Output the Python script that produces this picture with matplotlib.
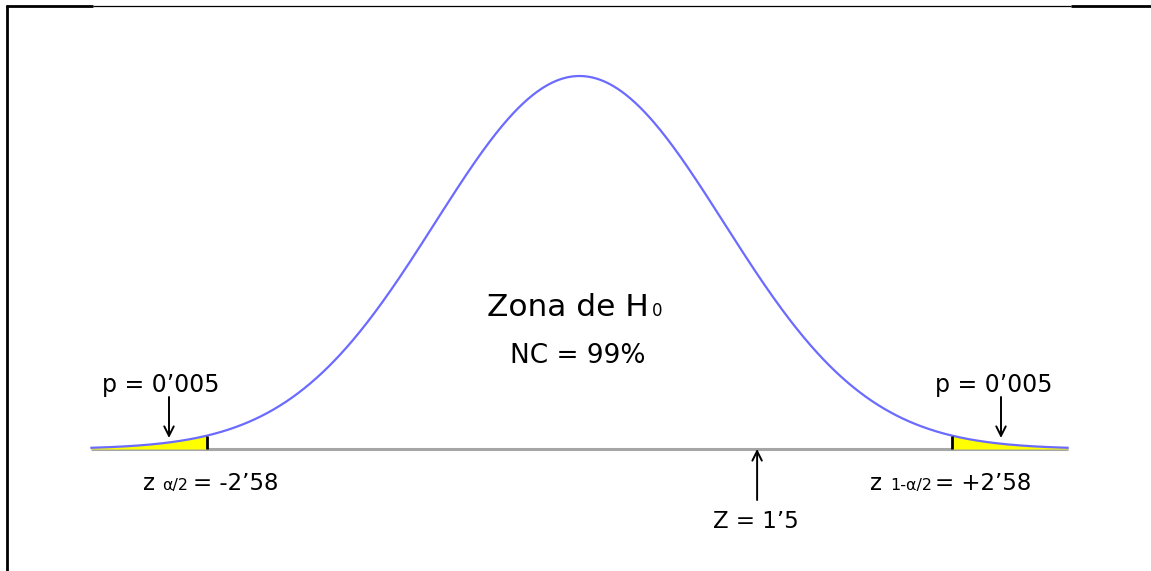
import numpy as np
import matplotlib
matplotlib.use('Agg')
from matplotlib import pyplot as plt
from matplotlib.lines import Line2D

# values
z_crit = 2.58            # critical value for NC = 99 %
z_lim = 3.38             # extent of the drawn curve
z_arrow = 1.23           # where the "Z = 1'5" arrow points on the axis
p_tail = "0\u2019005"
nc_label = "NC = 99%"
z_obs_label = "Z = 1\u20195"
crit_left_label = "-2\u201958"
crit_right_label = "+2\u201958"

W, H = 1151, 571
fig = plt.figure(figsize=(W / 100., H / 100.), dpi=100)

# axes spanning the whole figure; pixel scale chosen from the picture
px_per_z = 144.4
x0_px = 579.5
pdf0 = 1. / np.sqrt(2. * np.pi)
y_per_px = pdf0 / 373.
base_px = 449
ax = fig.add_axes([0, 0, 1, 1])
ax.set_xlim(-x0_px / px_per_z, (W - x0_px) / px_per_z)
ax.set_ylim(-(H - base_px) * y_per_px, base_px * y_per_px)
ax.axis('off')


def pdf(z):
    return np.exp(-0.5 * z**2) / np.sqrt(2. * np.pi)


def fpx(x, y):
    # pixel (from top-left) -> figure fraction
    return x / W, 1. - y / H


z = np.linspace(-z_lim, z_lim, 800)
ax.plot([-z_lim, z_lim], [0, 0], color='#a6a6a6', lw=2.2, solid_capstyle='butt', zorder=1)
for side in (-1, 1):
    zz = np.linspace(min(side * z_crit, side * z_lim), max(side * z_crit, side * z_lim), 200)
    ax.fill_between(zz, 0, pdf(zz), color='#ffff00', linewidth=0, zorder=2)
    ax.plot([side * z_crit] * 2, [0, pdf(z_crit)], color='k', lw=2, solid_capstyle='butt', zorder=4)
ax.plot(z, pdf(z), color='#6b6bff', lw=1.6, zorder=3)

# arrows
arrow = dict(arrowstyle='->', color='k', lw=1.4, mutation_scale=17, shrinkA=0, shrinkB=0)
for xa in (169, 1001):
    ax.annotate('', xy=fpx(xa, 438), xytext=fpx(xa, 397), xycoords='figure fraction',
                textcoords='figure fraction', arrowprops=arrow)
ax.annotate('', xy=(z_arrow, 0), xytext=(z_arrow, -51 * y_per_px), arrowprops=arrow)

# texts
fam = 'DejaVu Sans'
def txt(x, y, s, size):
    fig.text(*fpx(x, y), s, fontsize=size, family=fam, ha='left', va='baseline')

txt(487, 316, "Zona de H", 22.5)
txt(652, 316, "0", 12)
txt(510, 363, nc_label, 19)
txt(102, 392, "p = " + p_tail, 17)
txt(935, 392, "p = " + p_tail, 17)
txt(143, 490, "z", 16.5)
txt(162, 490, "\u03b1/2", 11.5)
txt(193, 490, "= " + crit_left_label, 16.5)
txt(870, 490, "z", 16.5)
txt(890, 490, "1-\u03b1/2", 11.5)
txt(935, 490, "= " + crit_right_label, 16.5)
txt(713, 528, z_obs_label, 16.5)

# frame pieces
def fline(x1, y1, x2, y2, lw):
    (a, b), (c, d) = fpx(x1, y1), fpx(x2, y2)
    fig.add_artist(Line2D([a, c], [b, d], color='k', lw=lw, solid_capstyle='butt'))

fline(6.5, 5, 6.5, 571, 2.0)
fline(6, 5.5, 93, 5.5, 2.0)
fline(93, 5.5, 1071, 5.5, 0.9)
fline(1071, 5.5, 1151, 5.5, 2.0)

fig.savefig('out.png', dpi=100)
